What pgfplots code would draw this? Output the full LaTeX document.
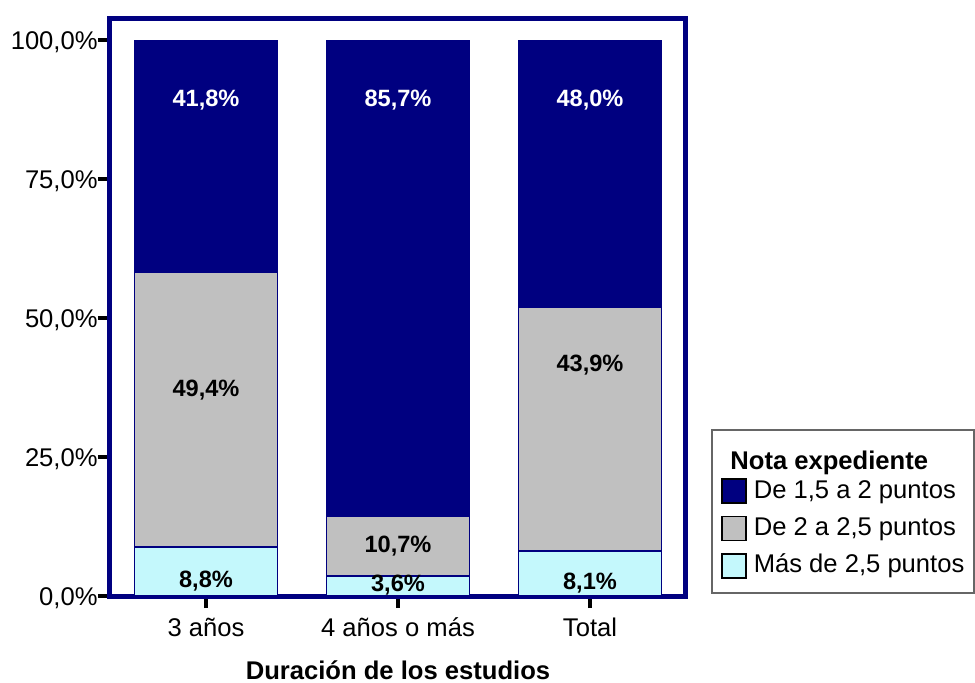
\documentclass[border=0pt]{standalone}
\usepackage{fontspec}
\setmainfont{Liberation Sans}
\usepackage{pgfplots}
\pgfplotsset{compat=1.18}
\definecolor{navy}{RGB}{0,0,128}
\definecolor{sgray}{RGB}{192,192,192}
\definecolor{scyan}{RGB}{196,248,252}
\tikzset{vlab/.style={font=\fontsize{11.8}{14}\selectfont\bfseries}}
\pgfplotsset{sqleg/.style={legend image code/.code={\draw[##1,draw=black,line width=0.7pt] (0pt,-6pt) rectangle (12pt,6pt);}}}
\begin{document}
\begin{tikzpicture}
\begin{axis}[
  at={(0,0)}, anchor=south west,
  scale only axis, width=288pt, height=289pt,
  ybar stacked, bar width=71.5pt,
  xmin=-0.5, xmax=2.5, ymin=0, ymax=104,
  xtick={0,1,2}, xticklabels={3 años, 4 años o más, Total},
  ytick={0,25,50,75,100},
  yticklabels={{0,0\%},{25,0\%},{50,0\%},{75,0\%},{100,0\%}},
  axis line style={draw=navy, line width=2.5pt},
  tick align=outside, major tick length=6pt,
  major tick style={black, line width=2pt},
  xtick pos=bottom, ytick pos=left,
  tick label style={font=\fontsize{12.8}{15}\selectfont},
  xticklabel style={inner sep=0pt, text height=9.2pt, text depth=0pt},
  xticklabel shift=5pt,
  yticklabel style={inner sep=0pt, text height=9.2pt, text depth=0pt},
  xlabel={\textbf{Duración de los estudios}},
  xlabel style={at={(axis description cs:0.5,0)}, anchor=center, yshift=-37pt, inner sep=0pt, text height=9.2pt, text depth=0pt, font=\fontsize{12.8}{15}\selectfont},
  legend style={name=leg, at={(1.0451,0.0052)}, anchor=south west, draw=none, fill=none,
    inner xsep=4.5pt, inner ysep=7pt, row sep=6pt, font=\fontsize{12.8}{15}\selectfont,
    nodes={inner sep=0pt, text height=9.5pt, text depth=2.5pt},
    /tikz/every odd column/.append style={column sep=3.5pt}},
  legend cell align=left, reverse legend,
]
\addplot[fill=scyan, draw=navy, line width=0.6pt, sqleg] coordinates {(0,8.8) (1,3.6) (2,8.1)};
\addlegendentry{Más de 2,5 puntos}
\addplot[fill=sgray, draw=navy, line width=0.6pt, sqleg] coordinates {(0,49.4) (1,10.7) (2,43.9)};
\addlegendentry{De 2 a 2,5 puntos}
\addplot[fill=navy, draw=navy, line width=0.6pt, sqleg] coordinates {(0,41.8) (1,85.7) (2,48.0)};
\addlegendentry{De 1,5 a 2 puntos}
\coordinate (a1) at (axis cs:0,89.2);
\coordinate (a2) at (axis cs:1,89.2);
\coordinate (a3) at (axis cs:2,89.2);
\coordinate (b1) at (axis cs:0,37.0);
\coordinate (b2) at (axis cs:1,9.0);
\coordinate (b3) at (axis cs:2,41.5);
\coordinate (c1) at (axis cs:0,2.7);
\coordinate (c2) at (axis cs:1,2.0);
\coordinate (c3) at (axis cs:2,2.4);
\end{axis}
\node[vlab, white] at (a1) {41,8\%};
\node[vlab, white] at (a2) {85,7\%};
\node[vlab, white] at (a3) {48,0\%};
\node[vlab] at (b1) {49,4\%};
\node[vlab] at (b2) {10,7\%};
\node[vlab] at (b3) {43,9\%};
\node[vlab] at (c1) {8,8\%};
\node[vlab] at (c2) {3,6\%};
\node[vlab] at (c3) {8,1\%};
\draw[black!60, line width=0.8pt] (leg.south west) rectangle ([yshift=17pt]leg.north east);
\node[anchor=base west, inner sep=0pt, font=\fontsize{12.8}{15}\selectfont\bfseries] at ([xshift=9pt, yshift=-2.6pt]leg.north west) {Nota expediente};
\path (-55pt,-43pt) rectangle (432.5pt,298pt);
\end{tikzpicture}
\end{document}
